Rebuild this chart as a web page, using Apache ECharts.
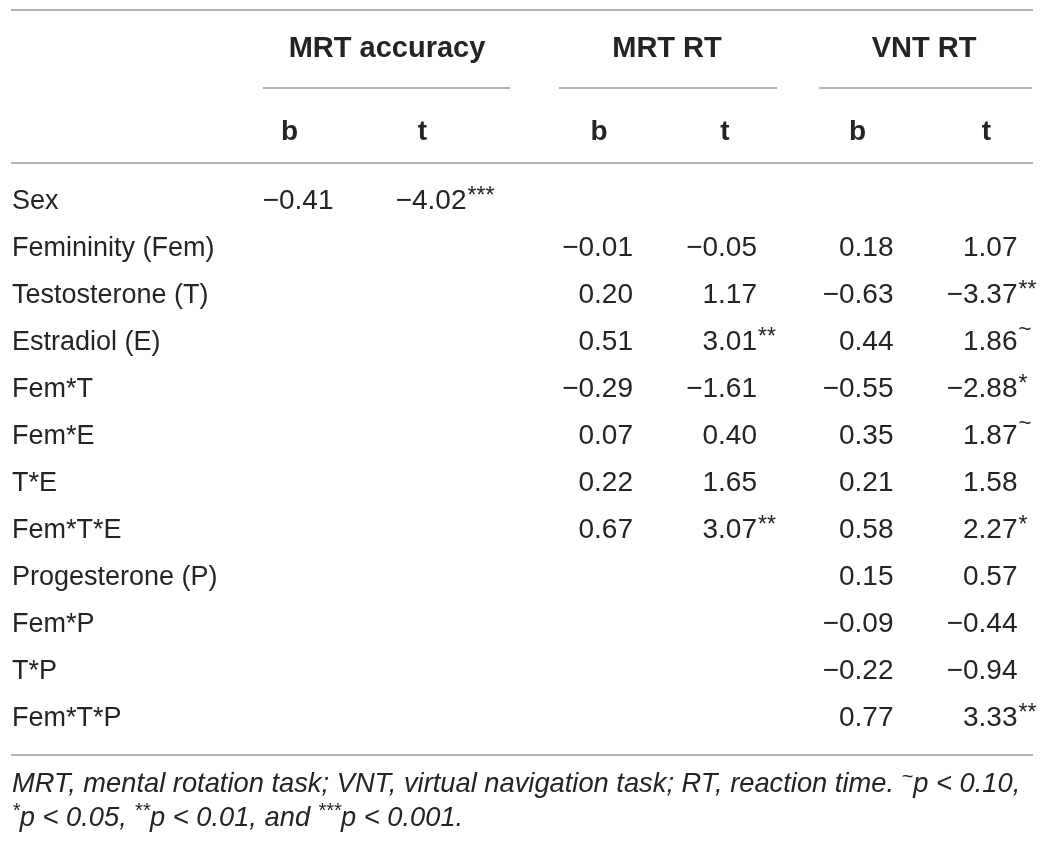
<!DOCTYPE html>
<html lang="en">
<head>
    <meta charset="utf-8">
    <title>Regression table</title>
    <style>
        html, body { margin: 0; padding: 0; background: #fff; }
        #table-chart { width: 1057px; height: 847px; }
    </style>
</head>
<body>
<div id="table-chart"></div>
<script src="https://cdn.jsdelivr.net/npm/echarts@6/dist/echarts.min.js"></script>
<script type="text/javascript">

// table rows (predictors)
var rows = ['Sex', 'Femininity (Fem)', 'Testosterone (T)', 'Estradiol (E)', 'Fem*T', 'Fem*E',
    'T*E', 'Fem*T*E', 'Progesterone (P)', 'Fem*P', 'T*P', 'Fem*T*P'];
var groups = ['MRT accuracy', 'MRT RT', 'VNT RT'];
var subCols = ['b', 't'];

// MRT accuracy
var mrtAccB = [-0.41, null, null, null, null, null, null, null, null, null, null, null];
var mrtAccT = [-4.02, null, null, null, null, null, null, null, null, null, null, null];
var mrtAccTSig = ['***', '', '', '', '', '', '', '', '', '', '', ''];
// MRT RT
var mrtRtB = [null, -0.01, 0.20, 0.51, -0.29, 0.07, 0.22, 0.67, null, null, null, null];
var mrtRtT = [null, -0.05, 1.17, 3.01, -1.61, 0.40, 1.65, 3.07, null, null, null, null];
var mrtRtTSig = ['', '', '', '**', '', '', '', '**', '', '', '', ''];
// VNT RT
var vntRtB = [null, 0.18, -0.63, 0.44, -0.55, 0.35, 0.21, 0.58, 0.15, -0.09, -0.22, 0.77];
var vntRtT = [null, 1.07, -3.37, 1.86, -2.88, 1.87, 1.58, 2.27, 0.57, -0.44, -0.94, 3.33];
var vntRtTSig = ['', '', '**', '~', '*', '~', '', '*', '', '', '', '**'];

var noteLine1 = 'MRT, mental rotation task; VNT, virtual navigation task; RT, reaction time. ';
var noteLine2 = ['p < 0.05, ', 'p < 0.01, and ', 'p < 0.001.'];

// 版式
var ink = '#262324';
var ruleColor = '#9a9a9a';
var font = '"Liberation Sans", Arial, Helvetica, sans-serif';
var gridTop = 178, rowH = 47;
var gridBoxes = [[223, 266], [536, 252], [793, 258]];   // [left, width] per column group
var groupCenters = [387, 667, 924];
var underlines = [[263, 510], [559, 777], [819, 1032]];

function fmt(v) {
    return v.toFixed(2).replace('-', '\u2212');
}

// one custom series per numeric column, numbers right aligned, marks hanging
function column(gridIdx, sub, values, sigs, anchor) {
    var data = [], marks = [];
    values.forEach(function (v, i) {
        if (v === null) return;
        data.push([sub, i, v]);
        marks.push(sigs ? sigs[i] : '');
    });
    return {
        type: 'custom',
        xAxisIndex: gridIdx,
        yAxisIndex: gridIdx,
        silent: true,
        data: data,
        renderItem: function (params, api) {
            var p = api.coord([api.value(0), api.value(1)]);
            var x = p[0] + anchor;
            var mark = marks[params.dataIndex];
            var kids = [{
                type: 'text',
                style: {
                    x: x, y: p[1], text: fmt(api.value(2)),
                    fill: ink, font: '28px ' + font,
                    textAlign: 'right', textVerticalAlign: 'middle'
                }
            }];
            if (mark) {
                var tilde = mark === '~';
                kids.push({
                    type: 'text',
                    style: {
                        x: x + 1, y: p[1] + (tilde ? -13 : -5), text: mark,
                        fill: ink, font: (tilde ? '22px ' : '23px ') + font,
                        textAlign: 'left', textVerticalAlign: 'middle'
                    }
                });
            }
            return { type: 'group', children: kids };
        }
    };
}

var grids = [], xAxes = [], yAxes = [];
gridBoxes.forEach(function (g, k) {
    grids.push({ left: g[0], width: g[1], top: gridTop, height: rowH * rows.length });
    xAxes.push({
        type: 'category', gridIndex: k, position: 'top', data: subCols,
        axisLine: { show: false }, axisTick: { show: false }, splitLine: { show: false },
        axisLabel: {
            margin: 46, verticalAlign: 'middle', color: ink,
            fontFamily: font, fontSize: 28, fontWeight: 'bold'
        }
    });
    yAxes.push({
        type: 'category', gridIndex: k, inverse: true, data: rows,
        axisLine: { show: false }, axisTick: { show: false }, splitLine: { show: false },
        axisLabel: k === 0 ? {
            align: 'left', margin: g[0] - 12, color: ink, fontFamily: font, fontSize: 27
        } : { show: false }
    });
});

function rule(x1, x2, y) {
    return {
        type: 'line', silent: true,
        shape: { x1: x1, y1: y, x2: x2, y2: y },
        style: { stroke: ruleColor, lineWidth: 1.5 }
    };
}

var graphics = [rule(11, 1033, 10), rule(11, 1033, 163), rule(11, 1033, 755)];
underlines.forEach(function (u) { graphics.push(rule(u[0], u[1], 88)); });
groups.forEach(function (name, k) {
    graphics.push({
        type: 'text', silent: true,
        style: {
            x: groupCenters[k], y: 49, text: name, fill: ink,
            font: 'bold 29px ' + font, textAlign: 'center', textVerticalAlign: 'middle'
        }
    });
});
graphics.push({
    type: 'text', silent: true, left: 12, top: 767,
    style: {
        text: '{i|' + noteLine1 + '}{s|~}{i|p < 0.10,}\n' +
            '{s|*}{i|' + noteLine2[0] + '}{s|**}{i|' + noteLine2[1] + '}{s|***}{i|' + noteLine2[2] + '}',
        fill: ink,
        rich: {
            i: { fontFamily: font, fontStyle: 'italic', fontSize: 27.3, lineHeight: 34, fill: ink },
            s: { fontFamily: font, fontStyle: 'italic', fontSize: 20, lineHeight: 34, fill: ink, verticalAlign: 'top' }
        }
    }
});

var chart = echarts.init(document.getElementById('table-chart'));
chart.setOption({
    backgroundColor: '#ffffff',
    animation: false,
    grid: grids,
    xAxis: xAxes,
    yAxis: yAxes,
    graphic: graphics,
    series: [
        column(0, 'b', mrtAccB, null, 44),
        column(0, 't', mrtAccT, mrtAccTSig, 44),
        column(1, 'b', mrtRtB, null, 34),
        column(1, 't', mrtRtT, mrtRtTSig, 32),
        column(2, 'b', vntRtB, null, 36),
        column(2, 't', vntRtT, vntRtTSig, 31)
    ]
});

</script>
</body>
</html>
